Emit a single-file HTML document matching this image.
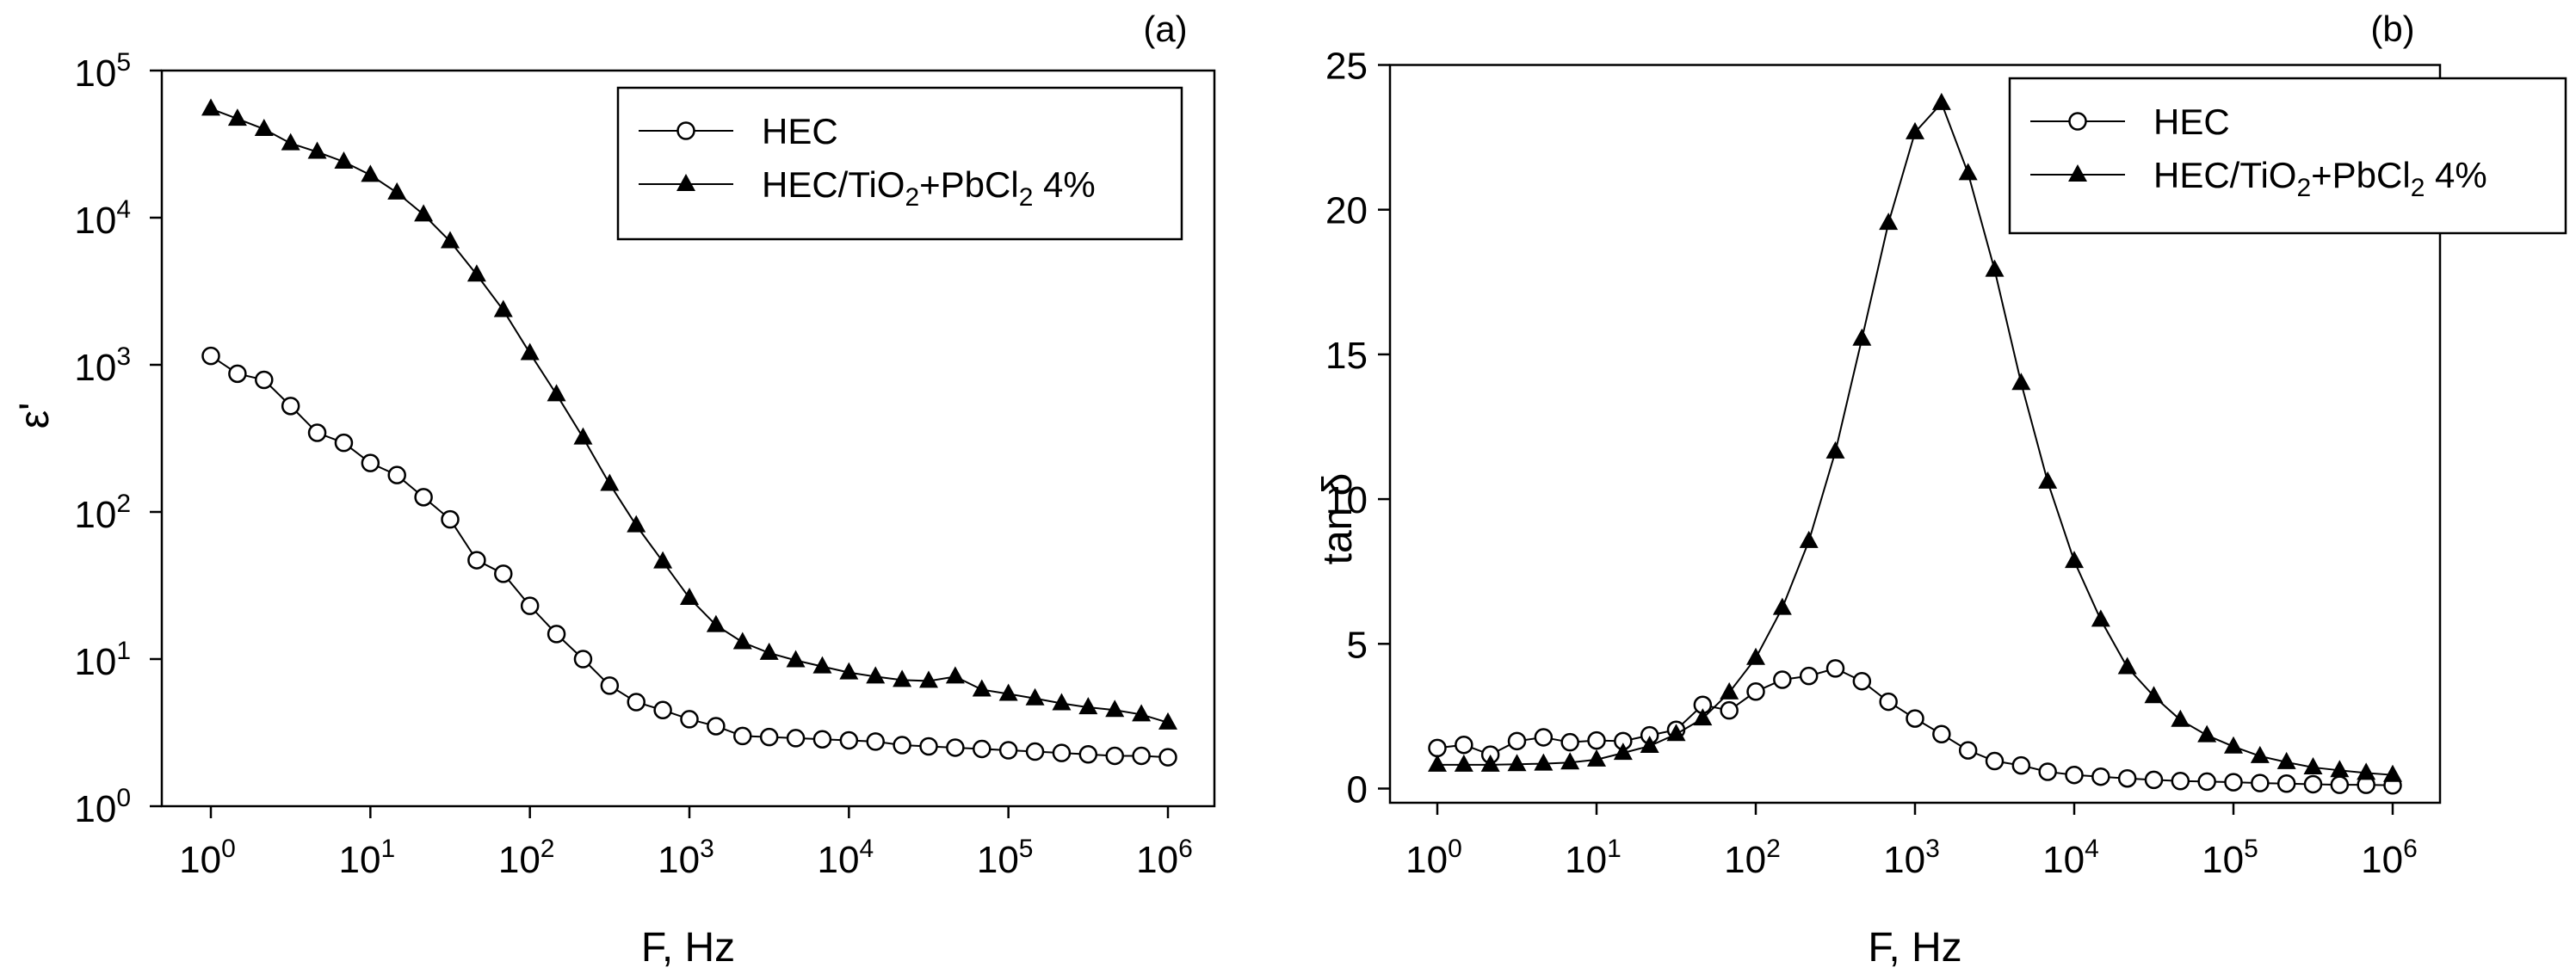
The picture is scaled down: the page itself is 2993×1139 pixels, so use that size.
<!DOCTYPE html>
<html><head><meta charset="utf-8"><style>
html,body{margin:0;padding:0;background:#fff}
svg{display:block}
text{font-family:"Liberation Sans",Arial,sans-serif;fill:#000}
</style></head><body>
<svg id="chart" width="2993" height="1139" viewBox="0 0 2993 1139" xmlns="http://www.w3.org/2000/svg"></svg>
<script>
const freqExponents = [0,1,2,3,4,5,6];
const epsHEC = [1150,870,790,525,345,295,215,178,126,89,47,38,23,14.8,10,6.6,5.1,4.5,3.9,3.5,3.0,2.95,2.9,2.85,2.8,2.75,2.6,2.55,2.5,2.45,2.4,2.35,2.3,2.25,2.2,2.2,2.15];
const epsComp = [55000,47000,40000,32000,28000,24000,19500,14800,10500,6900,4100,2350,1200,630,320,155,81,46,26,17,13,11,9.8,8.9,8.1,7.6,7.2,7.1,7.6,6.2,5.8,5.4,5.0,4.7,4.5,4.2,3.7];
const tanHEC = [1.40,1.51,1.17,1.64,1.77,1.60,1.66,1.64,1.84,2.03,2.89,2.70,3.35,3.76,3.89,4.15,3.71,3.0,2.42,1.88,1.32,0.95,0.80,0.58,0.47,0.41,0.35,0.30,0.26,0.24,0.22,0.19,0.17,0.15,0.13,0.13,0.11];
const tanComp = [0.82,0.82,0.82,0.84,0.86,0.9,1.0,1.23,1.47,1.88,2.42,3.32,4.51,6.24,8.55,11.64,15.54,19.54,22.67,23.68,21.26,17.92,14.01,10.6,7.86,5.83,4.19,3.19,2.37,1.84,1.45,1.12,0.91,0.73,0.63,0.54,0.47];
const epsTickExponents = [0,1,2,3,4,5];
const tanTicks = [0,5,10,15,20,25];

const svg = document.getElementById('chart');
const NS = 'http://www.w3.org/2000/svg';
function el(tag, attrs, parent){const e=document.createElementNS(NS,tag);for(const k in attrs)e.setAttribute(k,attrs[k]);(parent||svg).appendChild(e);return e;}
function pow10Label(x,y,exp,anchorRight,g){
  const t=el('text',{x:x,y:y,'font-size':44,'text-anchor':anchorRight?'end':'middle'},g);
  t.innerHTML='10<tspan dy="-18" font-size="30">'+exp+'</tspan>';
  return t;
}
function panel(cfg){
  const g=el('g',{});
  
  
  const {L,R,T,B,x0,x6,yFn}=cfg;
  const xs=e=>x0+(x6-x0)*e/6;
  const box=el('rect',{x:L,y:T,width:R-L,height:B-T,fill:'none',stroke:'#000','stroke-width':2.5},g);
  
  
  freqExponents.forEach(e=>{
    const x=xs(e);
    el('line',{x1:x,y1:B,x2:x,y2:B+14,stroke:'#000','stroke-width':2.5},g);
    const t=pow10Label(x-4,1014,e,false,g);
    
    
  });
  cfg.yTicks.forEach(v=>{
    const y=cfg.log?yFn(Math.pow(10,v)):yFn(v);
    el('line',{x1:L-14,y1:y,x2:L,y2:y,stroke:'#000','stroke-width':2.5},g);
    let t;
    if(cfg.log){t=pow10Label(L-36,y+18,v,true,g);}
    else{t=el('text',{x:L-26,y:y+16,'font-size':44,'text-anchor':'end'},g);t.textContent=v;}
    
    
  });
  const xt=el('text',{x:(L+R)/2,y:1117,'font-size':48,'text-anchor':'middle'},g);
  xt.textContent='F, Hz';
  
  
  const yt=el('text',{x:0,y:0,'font-size':48,'text-anchor':'middle',transform:'translate('+cfg.ytx+','+cfg.yty+') rotate(-90)'},g);
  yt.textContent=cfg.ytitle;
  
  
  const pl=el('text',{x:cfg.plx,y:48,'font-size':42,'text-anchor':'middle'},g);
  pl.textContent=cfg.panelLabel;
  
  
  const series=[{d:cfg.s1,m:'circle',n:'series-hec'},{d:cfg.s2,m:'tri',n:'series-composite'}];
  series.forEach(s=>{
    const pts=s.d.map((v,i)=>[xs(i/6),yFn(v)]);
    const line=el('polyline',{points:pts.map(p=>p.join(',')).join(' '),fill:'none',stroke:'#000','stroke-width':2},g);
    
    
    pts.forEach(p=>{
      let m;
      if(s.m==='circle') m=el('circle',{cx:p[0],cy:p[1],r:9.5,fill:'#fff',stroke:'#000','stroke-width':2.5},g);
      else m=el('polygon',{points:(p[0])+','+(p[1]-12)+' '+(p[0]-11)+','+(p[1]+8)+' '+(p[0]+11)+','+(p[1]+8),fill:'#000'},g);
      
      
    });
  });
  const lg=el('g',{},g);
  
  
  const [lx1,ly1,lx2,ly2]=cfg.leg;
  el('rect',{x:lx1,y:ly1,width:lx2-lx1,height:ly2-ly1,fill:'#fff',stroke:'#000','stroke-width':2.5},lg);
  const sx=lx1+24, ex=lx1+134, tx=lx1+167;
  const r1=ly1+50, r2=ly1+112;
  el('line',{x1:sx,y1:r1,x2:ex,y2:r1,stroke:'#000','stroke-width':2},lg);
  const lc=el('circle',{cx:(sx+ex)/2,cy:r1,r:9.5,fill:'#fff',stroke:'#000','stroke-width':2.5},lg);
  
  
  el('line',{x1:sx,y1:r2,x2:ex,y2:r2,stroke:'#000','stroke-width':2},lg);
  const cx=(sx+ex)/2;
  el('polygon',{points:cx+','+(r2-12)+' '+(cx-11)+','+(r2+8)+' '+(cx+11)+','+(r2+8),fill:'#000'},lg);
  const t1=el('text',{x:tx,y:r1+15,'font-size':42},lg);
  t1.textContent='HEC';
  
  
  const t2=el('text',{x:tx,y:r2+15,'font-size':42},lg);
  t2.innerHTML='HEC/TiO<tspan dy="10" font-size="30">2</tspan><tspan dy="-10">+PbCl</tspan><tspan dy="10" font-size="30">2</tspan><tspan dy="-10"> 4%</tspan>';
  
  
}
(function(){
  const T=82,B=937;
  panel({name:'panel-a-permittivity',L:188,R:1411,T:T,B:B,x0:245,x6:1357,
    yFn:v=>B-(B-T)*(Math.log10(v)/5),log:true,yTicks:epsTickExponents,
    s1:epsHEC,s2:epsComp,ytitle:"ε'",ytx:56,yty:483,panelLabel:'(a)',plx:1354,
    leg:[718,102,1373,278]});
})();
(function(){
  const T=75.5,B=933,y0=916.5,y25=75.5;
  panel({name:'panel-b-loss-tangent',L:1615,R:2835,T:T,B:B,x0:1670,x6:2780,
    yFn:v=>y0-(y0-y25)*v/25,log:false,yTicks:tanTicks,
    s1:tanHEC,s2:tanComp,ytitle:'tan δ',ytx:1570,yty:603,panelLabel:'(b)',plx:2780,
    leg:[2335,91,2981,271]});
})();
</script>
</body></html>
